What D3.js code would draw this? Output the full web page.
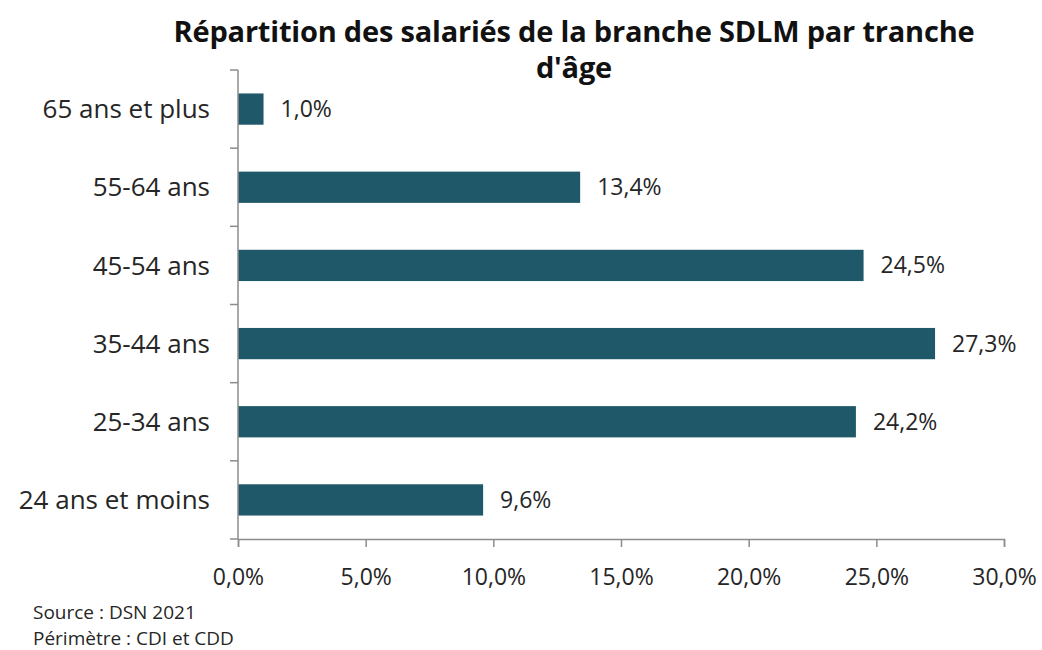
<!DOCTYPE html>
<html>
<head>
<meta charset="utf-8">
<script src="https://cdn.jsdelivr.net/npm/d3@7"></script>
<style>
  body { margin: 0; background: #fff; }
  text { font-family: "Open Sans", sans-serif; fill: #262626; }
</style>
</head>
<body>
<div id="chart"></div>
<script>
var categories = ['65 ans et plus', '55-64 ans', '45-54 ans', '35-44 ans', '25-34 ans', '24 ans et moins']
var values = [1.0, 13.4, 24.5, 27.3, 24.2, 9.6]
var xTicks = [0, 5, 10, 15, 20, 25, 30]
var title = ['Répartition des salariés de la branche SDLM par tranche', "d'âge"]
var notes = ['Source : DSN 2021', 'Périmètre : CDI et CDD']

var width = 1042
var height = 650
var barColor = '#1f5869'
var axisColor = '#8c8c8c'

var fmt = function (v) { return v.toFixed(1).replace('.', ',') + '%' }

var svg = d3.select('#chart')
	.append('svg')
	.attr('width', width)
	.attr('height', height)

var x = d3.scaleLinear()
	.domain([0, 30])
	.range([238, 1004])

var y = d3.scaleBand()
	.domain(categories)
	.range([70, 539])
	.paddingInner(0.6)
	.paddingOuter(0.3)

// title
svg.append('g')
	.selectAll('text')
	.data(title)
	.enter()
	.append('text')
	.attr('x', 574)
	.attr('y', (d, i) => 42 + i * 36)
	.attr('text-anchor', 'middle')
	.style('font-size', '29px')
	.style('font-weight', 'bold')
	.style('letter-spacing', '-0.2px')
	.style('fill', '#111')
	.text(d => d)

// bars
svg.append('g')
	.selectAll('rect')
	.data(values)
	.enter()
	.append('rect')
	.attr('x', x(0))
	.attr('y', (d, i) => y(categories[i]))
	.attr('width', d => x(d) - x(0))
	.attr('height', y.bandwidth())
	.attr('fill', barColor)

// value labels
svg.append('g')
	.selectAll('text')
	.data(values)
	.enter()
	.append('text')
	.attr('x', d => x(d) + 17)
	.attr('y', (d, i) => y(categories[i]) + y.bandwidth() / 2)
	.attr('dy', '0.35em')
	.style('font-size', '23px')
	.text(d => fmt(d))

// x axis
var xAxis = svg.append('g')
	.attr('transform', 'translate(0,539)')
	.call(d3.axisBottom(x).tickValues(xTicks).tickSize(8).tickPadding(22).tickFormat(d => fmt(d)))
xAxis.select('.domain').attr('stroke', axisColor).attr('stroke-width', 1.5)
xAxis.selectAll('.tick line').attr('stroke', axisColor).attr('stroke-width', 1.5)
xAxis.selectAll('.tick text')
	.style('font-size', '23px')
	.style('font-family', '"Open Sans", sans-serif')
	.attr('fill', '#262626')

// y axis
var yTickPos = d3.range(categories.length + 1).map(i => 70 + i * (469 / categories.length))
var yAxis = svg.append('g')
yAxis.append('line')
	.attr('x1', x(0)).attr('x2', x(0))
	.attr('y1', 70).attr('y2', 539)
	.attr('stroke', axisColor)
	.attr('stroke-width', 1.5)
yAxis.selectAll('.ytick')
	.data(yTickPos)
	.enter()
	.append('line')
	.attr('x1', x(0) - 8).attr('x2', x(0))
	.attr('y1', d => d).attr('y2', d => d)
	.attr('stroke', axisColor)
	.attr('stroke-width', 1.5)
yAxis.selectAll('text')
	.data(categories)
	.enter()
	.append('text')
	.attr('x', 210)
	.attr('y', d => y(d) + y.bandwidth() / 2)
	.attr('dy', '0.35em')
	.attr('text-anchor', 'end')
	.style('font-size', '26px')
	.text(d => d)

// notes
svg.append('g')
	.selectAll('text')
	.data(notes)
	.enter()
	.append('text')
	.attr('x', 33)
	.attr('y', (d, i) => 619 + i * 26)
	.style('font-size', '19px')
	.text(d => d)
</script>
</body>
</html>
